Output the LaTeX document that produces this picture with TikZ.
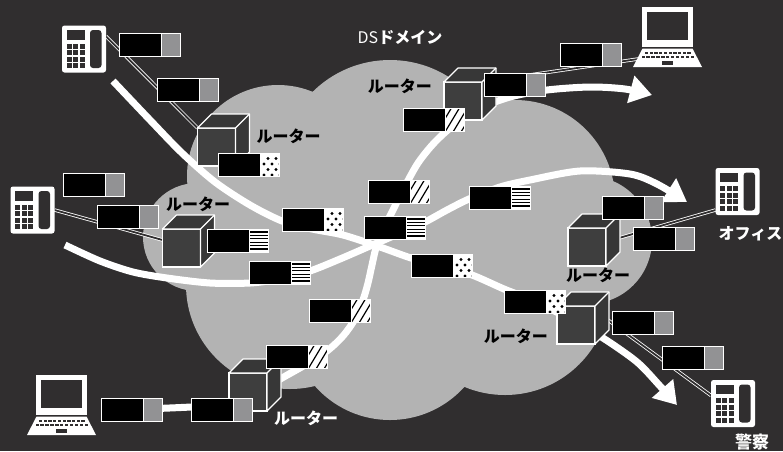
\documentclass[tikz,border=0pt]{standalone}
\usepackage{fontspec}
\newfontfamily\jp{Noto Sans CJK JP}
\usepackage{tikz}
\usetikzlibrary{arrows.meta, positioning, backgrounds}

\definecolor{bg}{RGB}{48,46,47}
\definecolor{cloud}{RGB}{179,179,179}
\definecolor{pktgray}{RGB}{146,146,148}
\definecolor{cubefront}{RGB}{62,62,62}
\definecolor{cubeside}{RGB}{55,55,55}

% path pictures are drawn around the node centre
\tikzset{
  pkt/.style={draw=white, fill=black, line width=0.9pt, minimum width=61pt,
    minimum height=23pt, inner sep=0pt, outer sep=0pt},
  tail/.style={path picture={#1
    \draw[white, line width=0.9pt] (11.5,-11.5) -- (11.5,11.5);}},
  graypkt/.style={pkt, tail={\fill[pktgray] (11.5,-11.5) rectangle (30.5,11.5);}},
  dotpkt/.style={pkt, tail={\fill[white] (11.5,-11.5) rectangle (30.5,11.5);
    \foreach \x/\y in {19.5/-6,27.5/-6,15.5/-0.5,23.5/-0.5,31.5/-0.5,
                       19.5/5,27.5/5,15.5/10.5,23.5/10.5,31.5/10.5}
      \fill[black] (\x,\y) circle (1.7pt);}},
  linepkt/.style={pkt, tail={\fill[white] (11.5,-11.5) rectangle (30.5,11.5);
    \foreach \y in {-8.5,-5.1,-1.7,1.7,5.1,8.5}
      \draw[black, line width=1.3pt] (11.5,\y) -- (30.5,\y);}},
  hatchpkt/.style={pkt, tail={\fill[white] (11.5,-11.5) rectangle (30.5,11.5);
    \foreach \s in {3.5,11.5,19.5,27.5}
      \draw[black, line width=1.2pt] (\s,12.5) -- ++(15,-25);}},
  router/.style={draw=white, fill=cubefront, line width=1.2pt, minimum size=38pt,
    inner sep=0pt, outer sep=0pt},
  phone/.style={fill=white, rounded corners=2.5pt, minimum width=44pt, minimum height=47pt,
    inner sep=0pt, outer sep=0pt, path picture={
      \fill[bg, sharp corners] (-17.5,-19) rectangle (0.5,-9.5);
      \fill[bg, rounded corners=3pt] (6,-19) rectangle (17.5,19);
      \foreach \i in {0,1,2} {\foreach \j in {0,...,3} {
        \fill[bg, sharp corners] ({-17.5+6.6*\i},{-5.5+6.6*\j}) rectangle ++(5,5);}}}},
  screen/.style={fill=white, minimum width=51pt, minimum height=40pt, inner sep=0pt,
    outer sep=0pt, path picture={\fill[bg] (-20.5,-15) rectangle (20.5,13);}},
  link/.style={draw=white, line width=0.8pt, double=bg, double distance=1.8pt},
  flow/.style={draw=white, line width=7pt, -{Triangle[length=22pt, width=27pt]}},
  lbl/.style={inner sep=0pt, text=black},
  wlbl/.style={inner sep=0pt, text=white}
}

% three visible faces of a router box
\newcommand{\cubefaces}[1]{%
  \filldraw[draw=white, fill=cubeside, line width=1.2pt, line join=round]
    (#1.north west) -- ++(14,-14) -- ++(38,0) -- ++(0,38) -- (#1.south east)
    -- (#1.north east) -- cycle;
  \draw[white, line width=1.2pt] (#1.north east) -- ++(14,-14);}

% keyboard part of a laptop, hung under its screen node
\newcommand{\laptopbase}[1]{%
  \begin{scope}[shift={(#1.south west)}]
    \fill[white] (0.5,1.5) -- (50.5,1.5) -- (60,20) -- (-9,20) -- cycle;
    \foreach \k in {0,...,9} \fill[bg] ({3+4.7*\k},4.5) rectangle ++(3.3,2.6);
    \foreach \k in {0,...,10} \fill[bg] ({-0.5+4.9*\k},8.7) rectangle ++(3.4,2.6);
    \fill[bg] (20,13.5) rectangle (31,17.5);
  \end{scope}}

\begin{document}
\begin{tikzpicture}[x=1pt, y=-1pt, font=\jp\bfseries\fontsize{16}{18}\selectfont]
\useasboundingbox (0,0) rectangle (783,451);

% Routers
\node[router] (r1) at (216.5,147) {};
\node[router] (r2) at (181.5,248) {};
\node[router] (r3) at (463,101) {};
\node[router] (r4) at (587,247) {};
\node[router] (r5) at (576,325) {};
\node[router] (r6) at (248,392) {};
\foreach \r in {r1,r2,r3,r4,r5,r6} {\cubefaces{\r}}

\node[lbl, right=21pt of r1, yshift=11pt] (l1) {ルーター};
\node[lbl, above=17pt of r2, xshift=16.5pt] (l2) {ルーター};
\node[lbl, left=12pt of r3, yshift=15pt] (l3) {ルーター};
\node[lbl, below=2pt of r4, xshift=11pt] (l4) {ルーター};
\node[lbl, left=9pt of r5, yshift=-11pt] (l5) {ルーター};
\node[wlbl, right=7pt of r6, yshift=-26pt] (l6) {ルーター};

% Packets
\node[graypkt] (p1) at (149.5,44.5) {};
\node[graypkt] (p2) at (187.5,89.5) {};
\node[dotpkt] (p3) at (248.5,164.5) {};
\node[graypkt] (p4) at (93.5,184.5) {};
\node[graypkt] (p5) at (127.5,216.5) {};
\node[linepkt] (p6) at (237.5,240.5) {};
\node[linepkt] (p7) at (279.5,272.5) {};
\node[dotpkt] (p8) at (312.5,219.5) {};
\node[hatchpkt] (p9) at (398.5,191.5) {};
\node[linepkt] (p10) at (394.5,227.5) {};
\node[linepkt] (p11) at (499.5,197.5) {};
\node[dotpkt] (p12) at (441.5,265.5) {};
\node[dotpkt] (p13) at (534.5,301.5) {};
\node[hatchpkt] (p14) at (339.5,310.5) {};
\node[hatchpkt] (p15) at (296.5,356.5) {};
\node[graypkt] (p16) at (131.5,409.5) {};
\node[graypkt] (p17) at (221.5,409.5) {};
\node[hatchpkt] (p18) at (433.5,119.5) {};
\node[graypkt] (p19) at (514.5,84.5) {};
\node[graypkt] (p20) at (590.5,54.5) {};
\node[graypkt] (p21) at (632.5,207.5) {};
\node[graypkt] (p22) at (663.5,238.5) {};
\node[graypkt] (p23) at (642.5,322.5) {};
\node[graypkt] (p24) at (692.5,357.5) {};

% Phones and laptops
\node[phone] (ph1) at (84,49) {};
\node[phone] (ph2) at (32.5,210) {};
\node[phone] (ph3) at (737.5,191.5) {};
\node[phone] (ph4) at (733,403.5) {};
\node[screen] (lt1) at (667.5,27) {};
\node[screen] (lt2) at (61.5,395) {};
\laptopbase{lt1}
\laptopbase{lt2}

\node[wlbl, below=11.5pt of ph3, xshift=13pt] (office) {オフィス};
\node[wlbl, below=6.5pt of ph4, xshift=19pt, font=\jp\bfseries\fontsize{17}{19}\selectfont] (police) {警察};
\node[wlbl] (ds) at (400,37) {{\mdseries DS}ドメイン};

\begin{scope}[on background layer]
  \fill[bg] (0,0) rectangle (783,451);
  % Cloud
  \fill[cloud] (278,176) circle (91pt) (390,170) circle (110pt) (515,200) circle (100pt)
    (588,240) circle (64pt) (505,290) circle (105pt) (390,320) circle (100pt)
    (290,285) circle (104pt) (197,237) circle (54pt)
    (430,260) ellipse [x radius=150pt, y radius=110pt];
  % Traffic flows
  \draw[flow] plot[smooth] coordinates {(113,81) (150,120) (182,153) (215,182) (250,205)
    (282,221) (312,229) (343,235) (380,247) (411,258) (441,266) (472,275) (504,289)
    (534,301) (570,319) (603,338) (637,362) (660,386) (677,405)};
  \draw[flow] plot[smooth] coordinates {(65,245) (100,261) (133,272) (167,278) (210,283)
    (250,283) (280,279) (310,271) (340,259) (370,246) (398,234) (425,222) (447,210)
    (469,199) (500,187) (530,180) (580,171) (630,174) (657,184) (687,202)};
  \draw[flow] plot[smooth] coordinates {(p16.center) (191,407) (225,404) (255,394) (282,378)
    (305,365) (327,351) (343,336) (355,319) (363,300) (368,283) (372,265) (376,248)
    (383,230) (392,212) (403,190) (418,163) (435,142) (455,124) (478,109) (510,97)
    (547,90) (590,87) (625,89) (652,95)};
  % Links
  \draw[link] (ph1.30) -- (r1.north west);
  \draw[link] (ph2.east) -- ([yshift=8pt]r2.west);
  \draw[link] ([shift={(-4pt,-12pt)}]lt1.south west) -- (r3.north east);
  \draw[link] ([yshift=5pt]ph3.south west) -- ([shift={(13pt,9pt)}]r4.east);
  \draw[link] ([yshift=8pt]ph4.west) -- ([shift={(13pt,5pt)}]r5.east);
\end{scope}
\end{tikzpicture}
\end{document}
